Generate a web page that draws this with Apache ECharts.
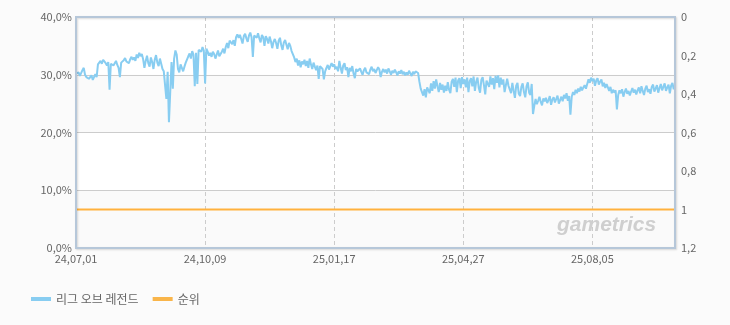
<!DOCTYPE html>
<html>
<head>
<meta charset="utf-8">
<script src="https://cdn.jsdelivr.net/npm/echarts@6/dist/echarts.min.js"></script>
<style>
html,body{margin:0;padding:0;background:#fbfbfb;}
#c{width:730px;height:325px;}
</style>
</head>
<body>
<div id="c"></div>
<script>
const startDate = '2024-07-01';
const leftTicks = [0, 10, 20, 30, 40];
const rightTicks = [0, 0.2, 0.4, 0.6, 0.8, 1, 1.2];
const seriesNames = ['리그 오브 레전드', '순위'];
const watermark = 'gametrics';

const lolShare = [
30.2,29.9,30.4,29.8,30.1,30.8,31.2,30.0,29.6,29.8,29.3,29.5,29.9,29.1,29.4,30.1,29.6,
31.8,32.1,32.4,31.9,32.6,32.3,32.0,31.6,32.2,
27.4,
31.9,32.2,31.6,32.0,32.4,31.7,31.2,
29.6,
32.1,31.8,32.5,32.9,32.3,32.6,32.0,32.7,33.1,32.6,33.0,32.4,33.5,32.9,33.8,33.2,
33.6,32.7,31.2,32.4,33.3,32.0,31.4,33.0,32.2,31.0,32.6,33.4,32.1,31.5,32.8,31.9,31.0,30.6,30.9,25.8,
30.5,21.8,27.0,32.2,27.6,32.8,34.2,33.5,
31.0,30.4,31.8,31.2,30.6,31.4,32.1,
31.8,33.2,33.7,32.8,34.1,33.5,
28.0,
33.8,28.4,34.3,34.6,34.0,34.8,34.2,28.5,34.5,34.0,
33.3,33.8,33.1,34.0,33.6,32.8,33.5,34.2,33.2,32.9,34.0,34.5,33.7,
34.8,35.5,34.6,35.9,36.2,35.3,36.0,35.0,36.5,37.0,36.4,36.9,36.2,35.4,36.7,37.1,36.3,35.7,36.8,37.3,
36.5,33.1,36.8,37.0,36.4,37.2,
36.3,35.6,36.9,36.5,35.0,36.7,36.2,35.4,36.6,35.8,34.6,
35.7,36.2,35.5,34.5,35.9,36.4,35.1,34.3,35.6,36.0,35.2,34.4,35.5,35.0,34.1,33.8,
33.0,32.2,32.8,31.6,32.5,31.3,32.3,31.8,
32.6,31.5,32.4,31.2,32.8,31.8,31.0,32.1,31.4,30.8,31.6,
29.3,31.5,31.8,31.0,29.2,30.6,31.2,31.7,30.9,31.5,32.0,31.4,
31.8,31.0,31.4,30.6,32.4,31.2,30.2,31.6,32.0,30.8,31.3,
29.6,
31.2,30.6,31.5,30.2,29.4,31.0,30.6,30.3,31.1,30.5,30.0,30.8,31.2,30.4,30.7,30.1,30.9,31.4,30.6,31.0,
30.3,30.8,31.3,30.9,29.6,30.5,31.0,30.4,30.9,30.2,31.1,30.6,30.0,30.7,30.3,30.9,30.4,29.9,30.6,30.2,
30.8,30.1,30.5,29.9,30.4,30.0,30.7,30.2,29.8,30.5,30.1,30.6,30.9,30.3,
28.8,27.6,27.0,26.4,27.5,26.1,27.8,
28.0,26.8,28.5,27.2,28.9,27.6,29.2,28.0,27.0,28.6,27.4,28.3,26.9,28.1,27.2,28.7,27.4,26.8,28.8,29.3,
27.9,29.5,27.0,29.0,29.4,27.7,29.6,28.4,
29.2,27.8,29.5,27.0,28.9,29.4,28.0,29.7,27.2,28.8,29.5,27.7,26.9,29.1,29.6,28.2,26.6,29.0,29.3,27.9,
29.7,28.3,29.4,27.5,29.8,28.6,29.9,27.8,29.5,28.3,29.2,27.0,28.2,29.3,28.1,
28.0,26.8,28.6,27.2,26.0,28.1,28.6,26.7,26.3,27.9,28.5,27.0,26.1,28.0,28.7,26.9,26.5,28.4,
23.2,24.6,
25.8,24.9,25.5,26.2,25.3,24.7,25.9,25.4,26.0,25.1,25.6,26.3,24.8,25.7,26.1,25.2,25.8,26.4,25.0,25.6,
26.2,25.4,26.5,25.9,26.8,25.5,26.3,
23.1,
26.2,27.0,26.5,27.4,26.8,27.6,27.1,27.9,27.3,27.8,28.2,27.6,28.4,
29.2,28.6,29.5,28.9,29.3,28.1,29.0,29.4,28.3,28.8,29.2,28.0,28.6,27.7,28.4,
27.8,27.2,27.9,26.8,27.4,26.9,27.3,
24.0,
26.5,27.3,26.8,27.5,26.2,27.0,27.6,26.7,27.2,26.4,27.1,27.7,26.9,27.4,26.6,27.3,27.8,26.8,28.0,27.2,
26.5,27.6,28.1,27.0,27.5,26.7,27.9,28.3,27.1,27.6,28.2,26.9,27.7,28.4,27.3,27.9,28.5,27.2,27.8,28.3,
26.8,28.1,28.6,27.5,28.0
];

// daily category labels
const categories = [];
(function(){
  const d0 = new Date(startDate + 'T00:00:00Z');
  for (let i = 0; i < lolShare.length; i++) {
    const d = new Date(d0.getTime() + i * 86400000);
    const yy = String(d.getUTCFullYear()).slice(2);
    const mm = String(d.getUTCMonth() + 1).padStart(2, '0');
    const dd = String(d.getUTCDate()).padStart(2, '0');
    categories.push(yy + '.' + mm + '.' + dd);
  }
})();

const rankDates = [categories[0], categories[categories.length - 1]];
const rankValues = [1, 1];

const chart = echarts.init(document.getElementById('c'), null, {renderer: 'canvas'});
const FONT = '"Noto Sans CJK KR", "Noto Sans", sans-serif';
const G = {left: 76, right: 55, top: 17, bottom: 77};

chart.setOption({
  backgroundColor: '#fbfbfb',
  animation: false,
  textStyle: {fontFamily: FONT},
  grid: {left: G.left, right: G.right, top: G.top, bottom: G.bottom},
  legend: {
    left: 26, top: 288,
    icon: 'rect',
    itemWidth: 20, itemHeight: 4,
    itemGap: 14,
    textStyle: {fontSize: 12, color: '#666', fontFamily: FONT},
    data: seriesNames
  },
  xAxis: {
    type: 'category',
    boundaryGap: false,
    data: categories,
    axisLine: {show: false},
    axisTick: {show: false},
    axisLabel: {
      interval: 99,
      color: '#666', fontSize: 11, margin: 5,
      fontFamily: FONT,
      formatter: v => v.replace(/\./g, ',')
    },
    splitLine: {
      show: true, interval: 99,
      lineStyle: {color: '#cccccc', type: [4, 3], width: 1}
    }
  },
  yAxis: [{
    type: 'value',
    min: leftTicks[0], max: leftTicks[leftTicks.length - 1], interval: 10,
    axisLine: {show: false},
    axisTick: {show: false},
    axisLabel: {
      color: '#666', fontSize: 11, margin: 4, fontFamily: FONT,
      formatter: v => v.toFixed(1).replace('.', ',') + '%'
    },
    splitLine: {lineStyle: {color: '#cccccc', width: 1}},
    splitArea: {show: true, areaStyle: {color: ['#fafafa', '#ffffff']}}
  }, {
    type: 'value',
    inverse: true,
    min: rightTicks[0], max: rightTicks[rightTicks.length - 1], interval: 0.2,
    axisLine: {show: false},
    axisTick: {show: false},
    splitLine: {show: false},
    axisLabel: {
      color: '#666', fontSize: 11, margin: 6, fontFamily: FONT,
      formatter: v => String(+v.toFixed(1)).replace('.', ',')
    }
  }],
  graphic: [{
    type: 'rect',
    z: 50,
    silent: true,
    shape: {x: G.left, y: G.top, width: 730 - G.left - G.right, height: 325 - G.top - G.bottom},
    style: {
      fill: null,
      stroke: '#b6c7d9',
      lineWidth: 2,
      shadowColor: 'rgba(0,0,0,0.15)',
      shadowBlur: 2,
      shadowOffsetX: 1,
      shadowOffsetY: 1
    }
  }, {
    type: 'text',
    z: 1,
    x: 557, y: 215,
    silent: true,
    style: {
      text: watermark,
      fontSize: 21,
      fontWeight: 'bold',
      fontStyle: 'italic',
      fontFamily: 'Liberation Sans',
      fill: '#cfcfcf'
    }
  }],
  series: [{
    name: seriesNames[0],
    type: 'line',
    data: lolShare,
    yAxisIndex: 0,
    symbol: 'none',
    color: '#88cdf1',
    lineStyle: {width: 2, color: '#88cdf1'},
    z: 3
  }, {
    name: seriesNames[1],
    type: 'line',
    data: rankDates.map((d, i) => [d, rankValues[i]]),
    yAxisIndex: 1,
    symbol: 'none',
    color: '#f9b54a',
    lineStyle: {width: 2, color: '#ffb13d'},
    z: 2
  }]
});
</script>
</body>
</html>
